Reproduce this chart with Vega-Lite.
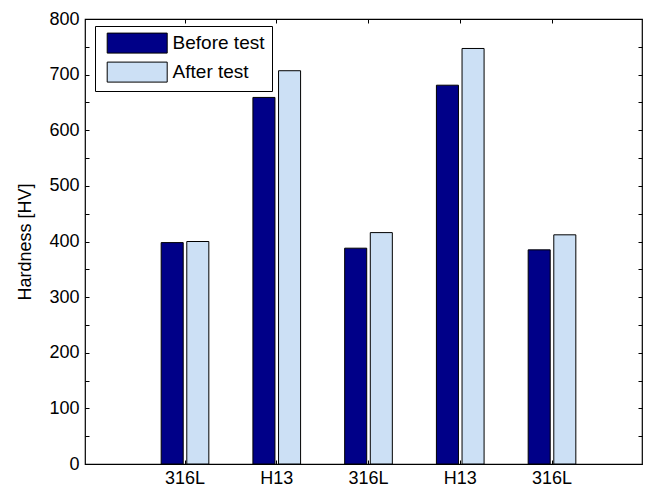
{
  "$schema": "https://vega.github.io/schema/vega-lite/v6.json",
  "width": 557,
  "height": 445,
  "autosize": "none",
  "padding": {"left": 85, "top": 19, "right": 4, "bottom": 24},
  "background": "white",
  "config": {
    "font": "Liberation Sans",
    "view": {"stroke": "black", "strokeWidth": 1.2},
    "axis": {
      "grid": false,
      "domain": false,
      "tickColor": "black",
      "tickWidth": 1,
      "tickSize": -4,
      "labelColor": "black",
      "labelFontSize": 18,
      "labelFont": "Liberation Sans",
      "titleFont": "Liberation Sans",
      "titleFontSize": 18,
      "titleFontWeight": "normal",
      "titleColor": "black"
    }
  },
  "data": {
    "values": [
      {"sample": "316L_1", "test": "Before test", "hv": 398},
      {"sample": "316L_1", "test": "After test", "hv": 400},
      {"sample": "H13_2", "test": "Before test", "hv": 659},
      {"sample": "H13_2", "test": "After test", "hv": 707},
      {"sample": "316L_3", "test": "Before test", "hv": 388},
      {"sample": "316L_3", "test": "After test", "hv": 416},
      {"sample": "H13_4", "test": "Before test", "hv": 681},
      {"sample": "H13_4", "test": "After test", "hv": 747},
      {"sample": "316L_5", "test": "Before test", "hv": 385},
      {"sample": "316L_5", "test": "After test", "hv": 412}
    ]
  },
  "layer": [
    {
      "mark": {"type": "bar", "stroke": "black", "strokeWidth": 1},
      "encoding": {
        "x": {
          "field": "sample", "type": "nominal", "sort": null,
          "scale": {"range": [54.125, 512.875], "paddingInner": 0, "paddingOuter": 0},
          "axis": {"orient": "bottom", "title": null, "labelAngle": 0, "labelPadding": 9,
                   "labelExpr": "split(datum.label, '_')[0]"}
        },
        "xOffset": {
          "field": "test", "type": "nominal", "sort": ["Before test", "After test"],
          "scale": {"paddingInner": 0.14, "paddingOuter": 0.86}
        },
        "y": {
          "field": "hv", "type": "quantitative",
          "scale": {"domain": [0, 800], "nice": false},
          "axis": {"orient": "left", "title": "Hardness [HV]", "titlePadding": 14, "labelPadding": 10,
                   "values": [0, 50, 100, 150, 200, 250, 300, 350, 400, 450, 500, 550, 600, 650, 700, 750, 800],
                   "labelExpr": "datum.value % 100 == 0 ? datum.label : ''"}
        },
        "color": {
          "field": "test", "type": "nominal",
          "scale": {"domain": ["Before test", "After test"], "range": ["#000088", "#CCE0F5"]},
          "legend": {
            "orient": "none", "legendX": 10, "legendY": 7, "title": null,
            "padding": 6.6, "strokeColor": "black", "fillColor": "white", "cornerRadius": 0,
            "symbolType": "M-0.49,-1H5.51V1H-0.49Z", "symbolSize": 400,
            "symbolStrokeColor": "black", "symbolStrokeWidth": 1, "symbolOpacity": 1,
            "labelFontSize": 19, "labelColor": "black", "labelFont": "Liberation Sans",
            "labelOffset": 50, "rowPadding": 4
          }
        }
      }
    },
    {
      "mark": {"type": "bar", "opacity": 0},
      "encoding": {
        "x": {
          "field": "sample", "type": "nominal", "sort": null,
          "axis": {"orient": "top", "title": null, "labels": false}
        },
        "y": {
          "field": "hv", "type": "quantitative",
          "axis": {"orient": "right", "title": null, "labels": false,
                   "values": [0, 50, 100, 150, 200, 250, 300, 350, 400, 450, 500, 550, 600, 650, 700, 750, 800]}
        }
      }
    }
  ],
  "resolve": {"axis": {"x": "independent", "y": "independent"}}
}
